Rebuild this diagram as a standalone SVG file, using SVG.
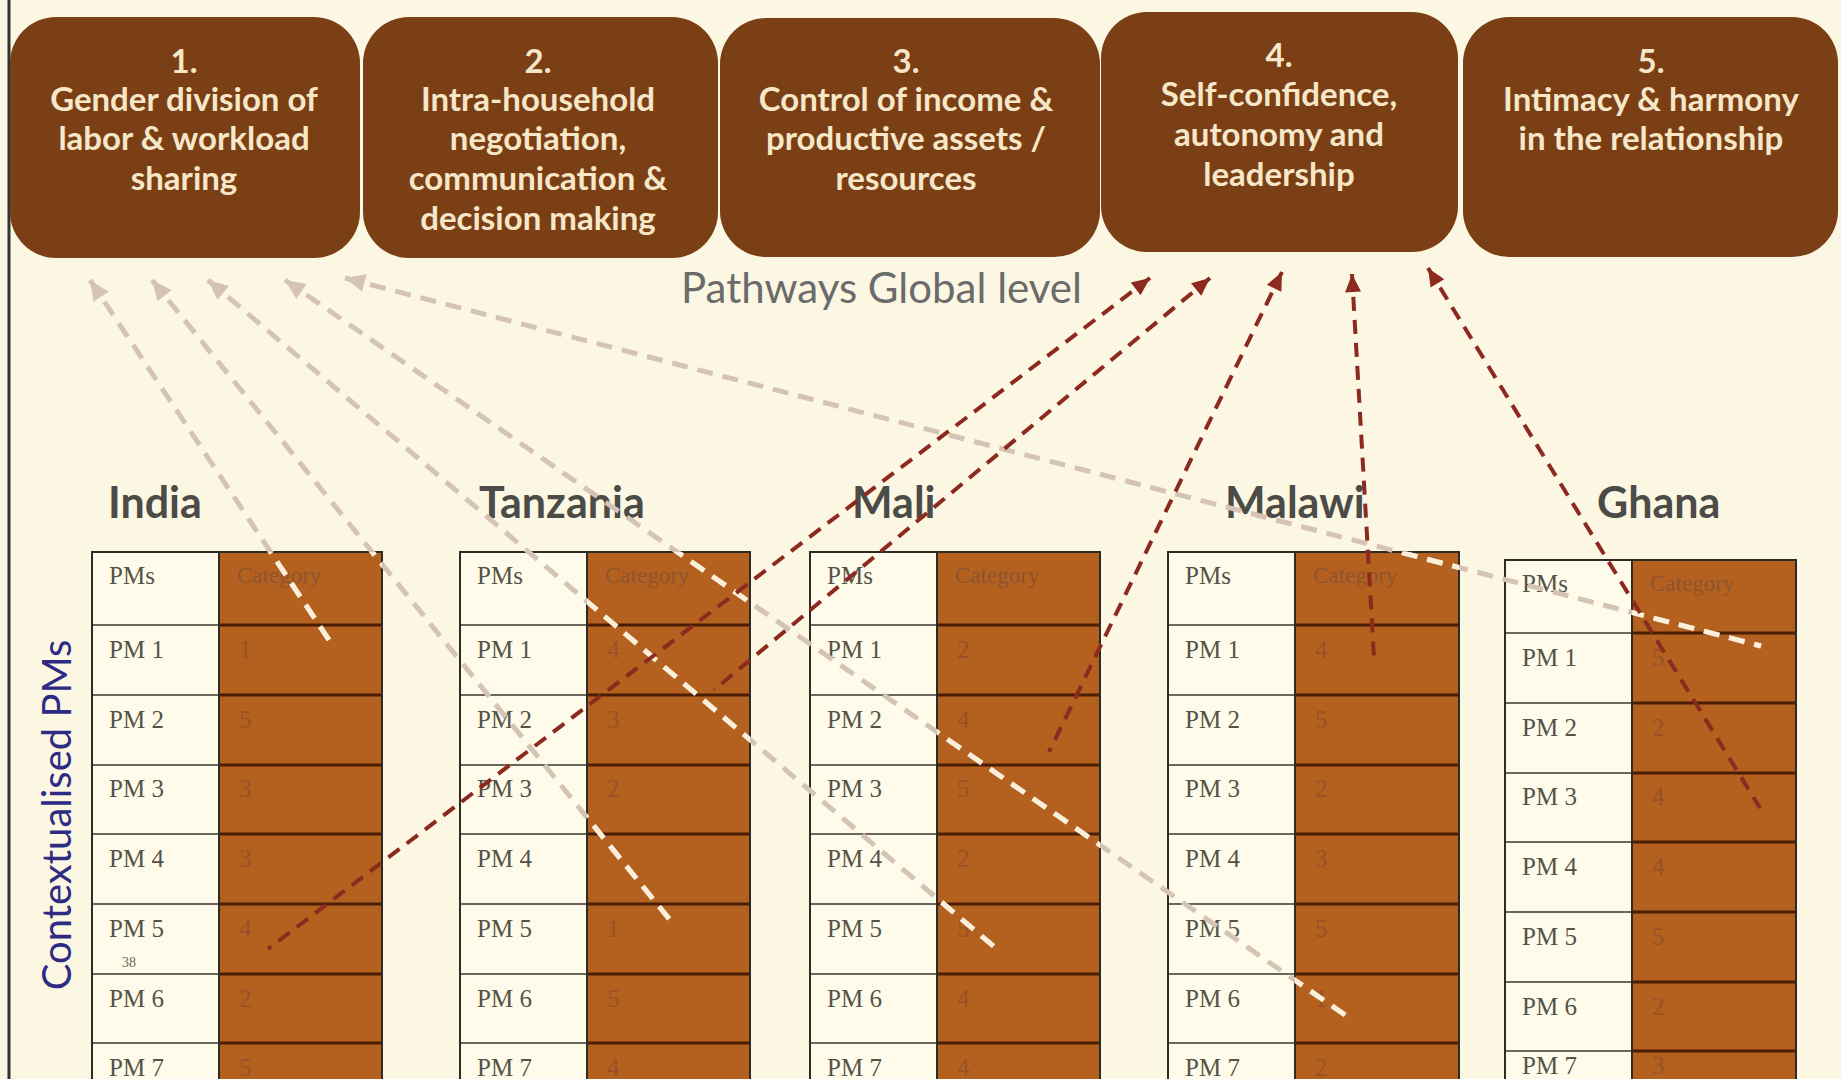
<svg xmlns="http://www.w3.org/2000/svg" width="1841" height="1079" viewBox="0 0 1841 1079">
<defs>
<style>
.box{fill:#7b3f16}
.bt{font-family:Lato,"Open Sans",sans-serif;font-size:33px;font-weight:700;fill:#f6e7c9;text-anchor:middle}
.ttl{font-family:Lato,"Open Sans",sans-serif;font-size:42px;fill:#6b6b6b}
.side{font-family:Lato,"Open Sans",sans-serif;font-size:40px;fill:#2e2b84;text-anchor:middle}
.cty{font-family:Lato,"Open Sans",sans-serif;font-size:43px;font-weight:700;fill:#4b4b47}
.pc{fill:#fefbea}
.cc{fill:#b4601f}
.ol{fill:none;stroke:#2e2a24;stroke-width:2}
.hl{stroke:#3a3630;stroke-width:1.5}
.hb{stroke:#4a1e06;stroke-width:3}
.pm{font-family:"Liberation Serif",serif;font-size:25px;fill:#545347}
.num{font-family:"Liberation Serif",serif;font-size:25px;fill:#985226}
.cat{font-family:"Liberation Serif",serif;font-size:23px;fill:#8d5530}
.sm{font-family:"Liberation Serif",serif;font-size:14px;fill:#6b6a5c}
.lt{fill:none;stroke:#d5c3b5;stroke-width:5;stroke-dasharray:16 10}
.lw{fill:none;stroke:#fbefd9;stroke-width:5;stroke-dasharray:16 10}
.rd{fill:none;stroke:#8c2a1f;stroke-width:4;stroke-dasharray:14 9}
</style>
<marker id="ahl" markerUnits="userSpaceOnUse" markerWidth="40" markerHeight="40" viewBox="-30 -20 40 40" refX="0" refY="0" orient="auto-start-reverse" overflow="visible">
<path d="M0,0 L-20,-9 L-20,9 Z" fill="#d5c3b5"/>
</marker>
<marker id="ahr" markerUnits="userSpaceOnUse" markerWidth="40" markerHeight="40" viewBox="-30 -20 40 40" refX="0" refY="0" orient="auto-start-reverse" overflow="visible">
<path d="M0,0 L-18,-8 L-18,8 Z" fill="#8c2a1f"/>
</marker>
<clipPath id="browncols">
<rect x="219" y="552" width="163" height="561"/>
<rect x="587" y="552" width="163" height="561"/>
<rect x="937" y="552" width="163" height="561"/>
<rect x="1295" y="552" width="164" height="561"/>
<rect x="1632" y="560" width="164" height="561"/>
</clipPath>
</defs>
<rect x="0" y="0" width="1841" height="1079" fill="#fcf7e2"/>
<line x1="9" y1="0" x2="9" y2="1079" stroke="#333" stroke-width="3"/>

<g id="box1">
<rect class="box" x="10" y="17" width="350" height="241" rx="46"/>
<text class="bt" x="184" y="73">1.</text>
<text class="bt" x="184" y="111">Gender division of</text>
<text class="bt" x="184" y="150">labor &amp;  workload</text>
<text class="bt" x="184" y="190">sharing</text>
</g>
<g id="box2">
<rect class="box" x="363" y="17" width="355" height="241" rx="46"/>
<text class="bt" x="538" y="73">2.</text>
<text class="bt" x="538" y="111">Intra-household</text>
<text class="bt" x="538" y="150">negotiation,</text>
<text class="bt" x="538" y="190">communication &amp;</text>
<text class="bt" x="538" y="230">decision making</text>
</g>
<g id="box3">
<rect class="box" x="720" y="18" width="380" height="239" rx="46"/>
<text class="bt" x="906" y="73">3.</text>
<text class="bt" x="906" y="111">Control of income &amp;</text>
<text class="bt" x="906" y="150">productive assets /</text>
<text class="bt" x="906" y="190">resources</text>
</g>
<g id="box4">
<rect class="box" x="1101" y="12" width="357" height="240" rx="46"/>
<text class="bt" x="1279" y="67">4.</text>
<text class="bt" x="1279" y="106">Self-confidence,</text>
<text class="bt" x="1279" y="146">autonomy and</text>
<text class="bt" x="1279" y="186">leadership</text>
</g>
<g id="box5">
<rect class="box" x="1463" y="17" width="375" height="240" rx="46"/>
<text class="bt" x="1651" y="73">5.</text>
<text class="bt" x="1651" y="111">Intimacy &amp; harmony</text>
<text class="bt" x="1651" y="150">in the relationship</text>
</g>

<text class="ttl" x="681" y="303">Pathways Global level</text>
<text class="side" transform="translate(71,815) rotate(-90)">Contextualised PMs</text>

<g id="india">
<text class="cty" x="108" y="518">India</text>
<g transform="translate(92,552)">
<rect class="pc" x="0" y="0" width="127" height="561"/>
<rect class="cc" x="127" y="0" width="163" height="561"/>
<g class="hl"><line x1="0" y1="73" x2="127" y2="73"/><line x1="0" y1="143" x2="127" y2="143"/><line x1="0" y1="213" x2="127" y2="213"/><line x1="0" y1="282" x2="127" y2="282"/><line x1="0" y1="352" x2="127" y2="352"/><line x1="0" y1="422" x2="127" y2="422"/><line x1="0" y1="491" x2="127" y2="491"/></g>
<g class="hb"><line x1="127" y1="73" x2="290" y2="73"/><line x1="127" y1="143" x2="290" y2="143"/><line x1="127" y1="213" x2="290" y2="213"/><line x1="127" y1="282" x2="290" y2="282"/><line x1="127" y1="352" x2="290" y2="352"/><line x1="127" y1="422" x2="290" y2="422"/><line x1="127" y1="491" x2="290" y2="491"/></g>
<rect class="ol" x="0" y="0" width="290" height="561"/><line class="ol" x1="127" y1="0" x2="127" y2="561"/>
<text class="pm" x="17" y="32">PMs</text><text class="cat" x="145" y="31">Category</text>
<text class="pm" x="17" y="106">PM 1</text><text class="num" x="147" y="106">1</text>
<text class="pm" x="17" y="176">PM 2</text><text class="num" x="147" y="176">5</text>
<text class="pm" x="17" y="245">PM 3</text><text class="num" x="147" y="245">3</text>
<text class="pm" x="17" y="315">PM 4</text><text class="num" x="147" y="315">3</text>
<text class="pm" x="17" y="385">PM 5</text><text class="num" x="147" y="385">4</text>
<text class="sm" x="30" y="415">38</text>
<text class="pm" x="17" y="455">PM 6</text><text class="num" x="147" y="455">2</text>
<text class="pm" x="17" y="524">PM 7</text><text class="num" x="147" y="524">5</text>
</g>
</g>

<g id="tanzania">
<text class="cty" x="479" y="518">Tanzania</text>
<g transform="translate(460,552)">
<rect class="pc" x="0" y="0" width="127" height="561"/>
<rect class="cc" x="127" y="0" width="163" height="561"/>
<g class="hl"><line x1="0" y1="73" x2="127" y2="73"/><line x1="0" y1="143" x2="127" y2="143"/><line x1="0" y1="213" x2="127" y2="213"/><line x1="0" y1="282" x2="127" y2="282"/><line x1="0" y1="352" x2="127" y2="352"/><line x1="0" y1="422" x2="127" y2="422"/><line x1="0" y1="491" x2="127" y2="491"/></g>
<g class="hb"><line x1="127" y1="73" x2="290" y2="73"/><line x1="127" y1="143" x2="290" y2="143"/><line x1="127" y1="213" x2="290" y2="213"/><line x1="127" y1="282" x2="290" y2="282"/><line x1="127" y1="352" x2="290" y2="352"/><line x1="127" y1="422" x2="290" y2="422"/><line x1="127" y1="491" x2="290" y2="491"/></g>
<rect class="ol" x="0" y="0" width="290" height="561"/><line class="ol" x1="127" y1="0" x2="127" y2="561"/>
<text class="pm" x="17" y="32">PMs</text><text class="cat" x="145" y="31">Category</text>
<text class="pm" x="17" y="106">PM 1</text><text class="num" x="147" y="106">4</text>
<text class="pm" x="17" y="176">PM 2</text><text class="num" x="147" y="176">3</text>
<text class="pm" x="17" y="245">PM 3</text><text class="num" x="147" y="245">2</text>
<text class="pm" x="17" y="315">PM 4</text>
<text class="pm" x="17" y="385">PM 5</text><text class="num" x="147" y="385">1</text>
<text class="pm" x="17" y="455">PM 6</text><text class="num" x="147" y="455">5</text>
<text class="pm" x="17" y="524">PM 7</text><text class="num" x="147" y="524">4</text>
</g>
</g>

<g id="mali">
<text class="cty" x="852" y="518">Mali</text>
<g transform="translate(810,552)">
<rect class="pc" x="0" y="0" width="127" height="561"/>
<rect class="cc" x="127" y="0" width="163" height="561"/>
<g class="hl"><line x1="0" y1="73" x2="127" y2="73"/><line x1="0" y1="143" x2="127" y2="143"/><line x1="0" y1="213" x2="127" y2="213"/><line x1="0" y1="282" x2="127" y2="282"/><line x1="0" y1="352" x2="127" y2="352"/><line x1="0" y1="422" x2="127" y2="422"/><line x1="0" y1="491" x2="127" y2="491"/></g>
<g class="hb"><line x1="127" y1="73" x2="290" y2="73"/><line x1="127" y1="143" x2="290" y2="143"/><line x1="127" y1="213" x2="290" y2="213"/><line x1="127" y1="282" x2="290" y2="282"/><line x1="127" y1="352" x2="290" y2="352"/><line x1="127" y1="422" x2="290" y2="422"/><line x1="127" y1="491" x2="290" y2="491"/></g>
<rect class="ol" x="0" y="0" width="290" height="561"/><line class="ol" x1="127" y1="0" x2="127" y2="561"/>
<text class="pm" x="17" y="32">PMs</text><text class="cat" x="145" y="31">Category</text>
<text class="pm" x="17" y="106">PM 1</text><text class="num" x="147" y="106">2</text>
<text class="pm" x="17" y="176">PM 2</text><text class="num" x="147" y="176">4</text>
<text class="pm" x="17" y="245">PM 3</text><text class="num" x="147" y="245">5</text>
<text class="pm" x="17" y="315">PM 4</text><text class="num" x="147" y="315">2</text>
<text class="pm" x="17" y="385">PM 5</text><text class="num" x="147" y="385">5</text>
<text class="pm" x="17" y="455">PM 6</text><text class="num" x="147" y="455">4</text>
<text class="pm" x="17" y="524">PM 7</text><text class="num" x="147" y="524">4</text>
</g>
</g>

<g id="malawi">
<text class="cty" x="1225" y="518">Malawi</text>
<g transform="translate(1168,552)">
<rect class="pc" x="0" y="0" width="127" height="561"/>
<rect class="cc" x="127" y="0" width="164" height="561"/>
<g class="hl"><line x1="0" y1="73" x2="127" y2="73"/><line x1="0" y1="143" x2="127" y2="143"/><line x1="0" y1="213" x2="127" y2="213"/><line x1="0" y1="282" x2="127" y2="282"/><line x1="0" y1="352" x2="127" y2="352"/><line x1="0" y1="422" x2="127" y2="422"/><line x1="0" y1="491" x2="127" y2="491"/></g>
<g class="hb"><line x1="127" y1="73" x2="291" y2="73"/><line x1="127" y1="143" x2="291" y2="143"/><line x1="127" y1="213" x2="291" y2="213"/><line x1="127" y1="282" x2="291" y2="282"/><line x1="127" y1="352" x2="291" y2="352"/><line x1="127" y1="422" x2="291" y2="422"/><line x1="127" y1="491" x2="291" y2="491"/></g>
<rect class="ol" x="0" y="0" width="291" height="561"/><line class="ol" x1="127" y1="0" x2="127" y2="561"/>
<text class="pm" x="17" y="32">PMs</text><text class="cat" x="145" y="31">Category</text>
<text class="pm" x="17" y="106">PM 1</text><text class="num" x="147" y="106">4</text>
<text class="pm" x="17" y="176">PM 2</text><text class="num" x="147" y="176">5</text>
<text class="pm" x="17" y="245">PM 3</text><text class="num" x="147" y="245">2</text>
<text class="pm" x="17" y="315">PM 4</text><text class="num" x="147" y="315">3</text>
<text class="pm" x="17" y="385">PM 5</text><text class="num" x="147" y="385">5</text>
<text class="pm" x="17" y="455">PM 6</text><text class="num" x="147" y="455">1</text>
<text class="pm" x="17" y="524">PM 7</text><text class="num" x="147" y="524">2</text>
</g>
</g>

<g id="ghana">
<text class="cty" x="1597" y="518">Ghana</text>
<g transform="translate(1505,560)">
<rect class="pc" x="0" y="0" width="127" height="561"/>
<rect class="cc" x="127" y="0" width="164" height="561"/>
<g class="hl"><line x1="0" y1="73" x2="127" y2="73"/><line x1="0" y1="143" x2="127" y2="143"/><line x1="0" y1="213" x2="127" y2="213"/><line x1="0" y1="282" x2="127" y2="282"/><line x1="0" y1="352" x2="127" y2="352"/><line x1="0" y1="422" x2="127" y2="422"/><line x1="0" y1="491" x2="127" y2="491"/></g>
<g class="hb"><line x1="127" y1="73" x2="291" y2="73"/><line x1="127" y1="143" x2="291" y2="143"/><line x1="127" y1="213" x2="291" y2="213"/><line x1="127" y1="282" x2="291" y2="282"/><line x1="127" y1="352" x2="291" y2="352"/><line x1="127" y1="422" x2="291" y2="422"/><line x1="127" y1="491" x2="291" y2="491"/></g>
<rect class="ol" x="0" y="0" width="291" height="561"/><line class="ol" x1="127" y1="0" x2="127" y2="561"/>
<text class="pm" x="17" y="32">PMs</text><text class="cat" x="145" y="31">Category</text>
<text class="pm" x="17" y="106">PM 1</text><text class="num" x="147" y="106">5</text>
<text class="pm" x="17" y="176">PM 2</text><text class="num" x="147" y="176">2</text>
<text class="pm" x="17" y="245">PM 3</text><text class="num" x="147" y="245">4</text>
<text class="pm" x="17" y="315">PM 4</text><text class="num" x="147" y="315">4</text>
<text class="pm" x="17" y="385">PM 5</text><text class="num" x="147" y="385">5</text>
<text class="pm" x="17" y="455">PM 6</text><text class="num" x="147" y="455">2</text>
<text class="pm" x="17" y="514">PM 7</text><text class="num" x="147" y="514">3</text>
</g>
</g>

<g id="connectors">
<g id="light-lines">
<path class="lt" marker-start="url(#ahl)" d="M90,280 L333,646"/>
<path class="lt" marker-start="url(#ahl)" d="M152,280 L670,920"/>
<path class="lt" marker-start="url(#ahl)" d="M208,280 L998,950"/>
<path class="lt" marker-start="url(#ahl)" d="M285,280 L1348,1017"/>
<path class="lt" marker-start="url(#ahl)" d="M345,278 L1761,646"/>
</g>
<g id="light-lines-on-brown" clip-path="url(#browncols)">
<path class="lw" d="M90,280 L333,646"/>
<path class="lw" d="M152,280 L670,920"/>
<path class="lw" d="M208,280 L998,950"/>
<path class="lw" d="M285,280 L1348,1017"/>
<path class="lw" d="M345,278 L1761,646"/>
</g>
<g id="red-lines">
<path class="rd" marker-start="url(#ahr)" d="M1150,278 L268,949"/>
<path class="rd" marker-start="url(#ahr)" d="M1210,278 L714,690"/>
<path class="rd" marker-start="url(#ahr)" d="M1282,272 L1049,752"/>
<path class="rd" marker-start="url(#ahr)" d="M1352,274 L1374,658"/>
<path class="rd" marker-start="url(#ahr)" d="M1428,268 L1760,808"/>
</g>
</g>
</svg>
